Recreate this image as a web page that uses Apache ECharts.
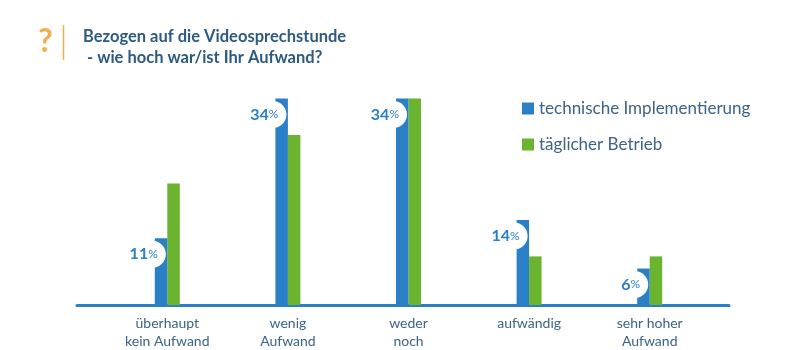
<!DOCTYPE html>
<html>
<head>
<meta charset="utf-8">
<script src="https://cdn.jsdelivr.net/npm/echarts@6/dist/echarts.min.js"></script>
<style>
  html, body { margin: 0; padding: 0; background: #fff; }
  #chart { width: 800px; height: 350px; }
</style>
</head>
<body>
<div id="chart"></div>
<script>
// Daten
var categories = ['überhaupt\nkein Aufwand', 'wenig\nAufwand', 'weder\nnoch', 'aufwändig', 'sehr hoher\nAufwand']
var seriesNames = ['technische Implementierung', 'täglicher Betrieb']
var implementierung = [11, 34, 34, 14, 6]
var betrieb = [20, 28, 34, 8, 8]

var blue = '#2a7fc6'
var green = '#6ab42f'
var textColor = '#3d6386'
var font = 'Lato'

var chart = echarts.init(document.getElementById('chart'))

var option = {
  animation: false,
  textStyle: { fontFamily: font },
  title: {
    text: 'Bezogen auf die Videosprechstunde\n - wie hoch war/ist Ihr Aufwand?',
    left: 78,
    top: 21,
    textStyle: {
      fontFamily: font,
      fontSize: 16.5,
      fontWeight: 'bold',
      color: '#2c5a80',
      lineHeight: 21
    }
  },
  graphic: [
    {
      type: 'text',
      x: 38,
      y: 26,
      style: {
        text: '?',
        fill: '#f2ad4e',
        fontFamily: font,
        fontSize: 32,
        fontWeight: 'bold'
      }
    },
    {
      type: 'line',
      shape: { x1: 63.5, y1: 25, x2: 63.5, y2: 60 },
      style: { stroke: '#f2ad4e', lineWidth: 1.5 }
    }
  ],
  legend: {
    data: seriesNames,
    orient: 'vertical',
    left: 517,
    top: 95,
    icon: 'rect',
    itemWidth: 12,
    itemHeight: 12,
    itemGap: 19,
    itemTextGap: 12,
    textStyle: { fontFamily: font, fontSize: 17, color: textColor, lineHeight: 17 }
  },
  grid: [
    { left: 107, right: 90, top: 62, bottom: 45 },
    { left: 77, right: 71, top: 62, bottom: 45 }
  ],
  xAxis: [
    {
      type: 'category',
      data: categories,
      gridIndex: 0,
      axisLine: { show: false },
      axisTick: { show: false },
      axisLabel: {
        margin: 9,
        fontFamily: font,
        fontSize: 14,
        lineHeight: 18,
        color: textColor
      }
    },
    {
      // durchgehende Grundlinie
      type: 'value',
      gridIndex: 1,
      min: 0,
      max: 1,
      axisLine: { show: true, lineStyle: { color: blue, width: 3 } },
      axisTick: { show: false },
      axisLabel: { show: false },
      splitLine: { show: false }
    }
  ],
  yAxis: [
    { type: 'value', gridIndex: 0, min: 0, max: 40, show: false },
    { type: 'value', gridIndex: 1, min: 0, max: 1, show: false }
  ],
  series: [
    {
      name: seriesNames[0],
      type: 'bar',
      data: implementierung,
      barWidth: 12.5,
      barGap: '0%',
      itemStyle: { color: blue },
      z: 3,
      label: {
        show: true,
        position: [11, 16],
        align: 'right',
        verticalAlign: 'middle',
        formatter: '{a|{c}}{b|%}',
        backgroundColor: '#fff',
        borderRadius: 14,
        padding: [6, 8, 6, 4],
        rich: {
          a: { fontFamily: font, fontSize: 16, fontWeight: 'bold', color: blue, lineHeight: 15 },
          b: { fontFamily: font, fontSize: 12, color: blue, lineHeight: 15 }
        }
      }
    },
    {
      name: seriesNames[1],
      type: 'bar',
      data: betrieb,
      barWidth: 12.5,
      itemStyle: { color: green }
    }
  ]
}

chart.setOption(option)
</script>
</body>
</html>
